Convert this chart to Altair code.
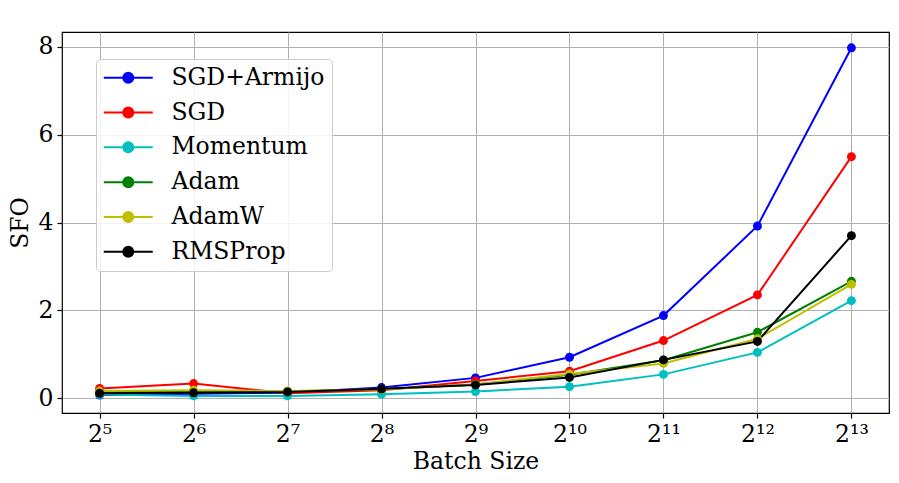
import altair as alt
import pandas as pd

exponents = [5, 6, 7, 8, 9, 10, 11, 12, 13]
tick_labels = ["2⁵", "2⁶", "2⁷", "2⁸", "2⁹", "2¹⁰", "2¹¹", "2¹²", "2¹³"]
series_names = ["SGD+Armijo", "SGD", "Momentum", "Adam", "AdamW", "RMSProp"]
series_colors = ["#0000ff", "#ff0000", "#00bfbf", "#008000", "#bfbf00", "#000000"]

sgd_armijo = [0.07e6, 0.10e6, 0.12e6, 0.24e6, 0.46e6, 0.93e6, 1.88e6, 3.92e6, 7.98e6]
sgd = [0.22e6, 0.33e6, 0.11e6, 0.18e6, 0.39e6, 0.61e6, 1.31e6, 2.35e6, 5.50e6]
momentum = [0.08e6, 0.05e6, 0.05e6, 0.09e6, 0.15e6, 0.26e6, 0.54e6, 1.04e6, 2.22e6]
adam = [0.13e6, 0.15e6, 0.15e6, 0.20e6, 0.31e6, 0.53e6, 0.86e6, 1.50e6, 2.66e6]
adamw = [0.16e6, 0.18e6, 0.16e6, 0.20e6, 0.31e6, 0.55e6, 0.79e6, 1.35e6, 2.59e6]
rmsprop = [0.11e6, 0.12e6, 0.14e6, 0.21e6, 0.30e6, 0.47e6, 0.87e6, 1.29e6, 3.70e6]

values = [sgd_armijo, sgd, momentum, adam, adamw, rmsprop]
rows = []
for k, (name, vals) in enumerate(zip(series_names, values)):
    for e, v in zip(exponents, vals):
        rows.append({"exp": e, "sfo": v, "optimizer": name, "order": k})
df = pd.DataFrame(rows)

FONT = "DejaVu Serif"
FS = 23.5
label_expr = "[" + ",".join("'%s'" % t for t in tick_labels) + "][datum.value - 5]"

color_scale = alt.Scale(domain=series_names, range=series_colors)
legend = alt.Legend(
    title=None, orient="none", legendX=34, legendY=27,
    symbolType="M-2.2,0L7.6,0M1.7,0A1,1,0,1,0,3.7,0A1,1,0,1,0,1.7,0Z",
    symbolSize=100, symbolStrokeWidth=2, labelFontSize=FS, labelFont=FONT,
    labelOffset=45, rowPadding=9.8, padding=7, cornerRadius=4,
    strokeColor="#cccccc", fillColor="rgba(255,255,255,0.85)", labelColor="black",
)

x_enc = alt.X("exp:Q", scale=alt.Scale(domain=[4.6, 13.4], nice=False, zero=False),
              axis=alt.Axis(values=exponents, labelExpr=label_expr, title="Batch Size"))
y_enc = alt.Y("sfo:Q", scale=alt.Scale(domain=[-0.34e6, 8.34e6], nice=False, zero=False),
              axis=alt.Axis(values=[0, 2e6, 4e6, 6e6, 8e6], labelExpr="datum.value/1e6", title="SFO"))

base = alt.Chart(df)
lines = base.mark_line(strokeWidth=2).encode(
    x=x_enc, y=y_enc,
    stroke=alt.Stroke("optimizer:N", scale=color_scale, legend=legend),
    detail="order:O",
    order="exp:Q",
)
points = base.mark_point(filled=True, size=80, opacity=1, strokeWidth=0).encode(
    x=x_enc, y=y_enc,
    fill=alt.Fill("optimizer:N", scale=color_scale, legend=legend),
    stroke=alt.Stroke("optimizer:N", scale=color_scale, legend=legend),
)

chart = alt.layer(lines, points).properties(
    width=827, height=381,
    autosize=alt.AutoSizeParams(type="none"),
    padding={"left": 54, "top": 24, "right": 2, "bottom": 62},
    title=alt.TitleParams("1e6", anchor="start", frame="group", fontSize=FS,
                          font=FONT, fontWeight="normal", offset=3, baseline="alphabetic",
                          color="black"),
).configure(font=FONT).configure_view(
    stroke="black", strokeWidth=1.2
).configure_axis(
    labelFont=FONT, titleFont=FONT, labelFontSize=FS, titleFontSize=FS,
    titleFontWeight="normal", labelColor="black", titleColor="black",
    grid=True, gridColor="#b0b0b0", gridWidth=1, domain=False,
    tickColor="black", tickSize=5, tickWidth=1.2, labelPadding=4,
).configure_axisY(titlePadding=6).configure_axisX(titlePadding=4)

chart.save("out.html", embed_options={"renderer": "svg", "actions": False})
